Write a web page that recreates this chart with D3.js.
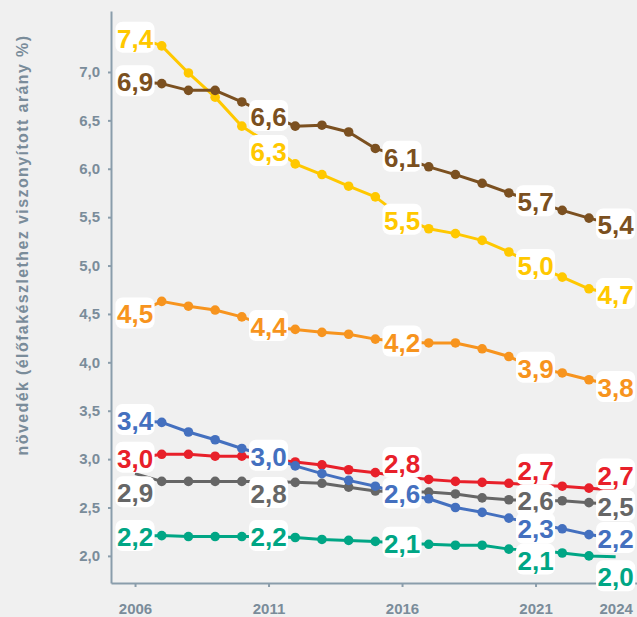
<!DOCTYPE html>
<meta charset="utf-8">
<style>

body {
  margin: 0;
  background: #f0f0f0;
}

svg {
  display: block;
  font-family: "Liberation Sans", Arial, sans-serif;
}

.axis path,
.axis line {
  stroke: #8a9dab;
  stroke-width: 2;
}

.axis text {
  font-size: 15px;
  font-weight: bold;
  fill: #7a8c9a;
}

.title {
  font-size: 16px;
  font-weight: bold;
  fill: #7a8c9a;
  letter-spacing: 1.4px;
}

.label text {
  font-size: 26px;
  font-weight: bold;
}

</style>
<svg width="637" height="617"></svg>
<script src="https://d3js.org/d3.v7.min.js"></script>
<script>

////////// Data //////////////

var years = [2006, 2007, 2008, 2009, 2010, 2011, 2012, 2013, 2014, 2015,
             2016, 2017, 2018, 2019, 2020, 2021, 2022, 2023, 2024];

var yellow = [7.37, 7.27, 6.99, 6.74, 6.44, 6.26, 6.05, 5.94, 5.82, 5.71,
              5.50, 5.38, 5.33, 5.26, 5.14, 5.00, 4.88, 4.76, 4.70];
var brown  = [6.90, 6.88, 6.81, 6.81, 6.69, 6.56, 6.44, 6.45, 6.38, 6.21,
              6.12, 6.02, 5.94, 5.85, 5.75, 5.66, 5.57, 5.49, 5.42];
var orange = [4.50, 4.63, 4.58, 4.54, 4.47, 4.37, 4.34, 4.31, 4.29, 4.24,
              4.21, 4.20, 4.20, 4.14, 4.06, 3.94, 3.89, 3.82, 3.76];
var grey   = [2.85, 2.77, 2.77, 2.77, 2.77, 2.77, 2.76, 2.75, 2.71, 2.67,
              2.66, 2.66, 2.64, 2.60, 2.58, 2.57, 2.57, 2.55, 2.53];
var red    = [3.01, 3.05, 3.05, 3.03, 3.03, 3.00, 2.97, 2.94, 2.89, 2.86,
              2.82, 2.79, 2.77, 2.76, 2.75, 2.73, 2.72, 2.70, 2.68];
var blue   = [3.40, 3.38, 3.28, 3.20, 3.11, 3.03, 2.93, 2.85, 2.78, 2.72,
              2.64, 2.59, 2.50, 2.45, 2.39, 2.33, 2.28, 2.22, 2.18];
var green  = [2.20, 2.21, 2.20, 2.20, 2.20, 2.20, 2.19, 2.17, 2.16, 2.15,
              2.13, 2.12, 2.11, 2.11, 2.07, 2.06, 2.03, 2.00, 1.99];

var labelYears = [2006, 2011, 2016, 2021, 2024];
var xTicks = [2006, 2011, 2016, 2021, 2024];
var yTicks = [2.0, 2.5, 3.0, 3.5, 4.0, 4.5, 5.0, 5.5, 6.0, 6.5, 7.0];
var yTitle = "növedék (élőfakészlethez viszonyított arány %)";

// drawing order, colours, label nudges (px); null = label covered, not drawn //
var series = [
  { values: yellow, color: "#ffc800", nudge: [2, 8, 3, 0, 0] },
  { values: brown,  color: "#7b5020", nudge: [0, 2, 0, 0, 0] },
  { values: orange, color: "#f7941e", nudge: [0, 0, 0, 0, 2] },
  { values: grey,   color: "#666666", nudge: [19, 12, null, 0, 2] },
  { values: red,    color: "#e8202a", nudge: [0, null, -13, -15, -15] },
  { values: blue,   color: "#4470bf", nudge: [0, 0, 0, 5, 0] },
  { values: green,  color: "#00a685", nudge: [0, 0, 0, 10, 20] }
];

////////// Scales + Axes //////////////

var svg = d3.select("svg");

var x = d3.scaleLinear().domain([2005.1, 2024.8]).range([111, 637]);
var y = d3.scaleLinear().domain([1.72, 7.63]).range([583, 11]);

var comma = function(v) { return d3.format(".1f")(v).replace(".", ","); };

svg.append("g")
    .attr("class", "axis")
    .attr("transform", "translate(111,0)")
    .call(d3.axisLeft(y).tickValues(yTicks).tickSize(3).tickSizeOuter(0)
      .tickPadding(8).tickFormat(comma));

svg.append("g")
    .attr("class", "axis")
    .attr("transform", "translate(0,583)")
    .call(d3.axisBottom(x).tickValues(xTicks).tickSize(4).tickSizeOuter(0)
      .tickPadding(16).tickFormat(d3.format("d")));

svg.selectAll(".axis").attr("font-family", null).attr("font-size", null);

svg.append("text")
    .attr("class", "title")
    .attr("transform", "translate(28,245) rotate(-90)")
    .attr("text-anchor", "middle")
    .text(yTitle);

/////////// Lines + Dots /////////////////////

var line = d3.line()
    .x(function(d) { return x(d.year); })
    .y(function(d) { return y(d.value); });

series.forEach(function(s) {
  s.points = years.map(function(yr, i) { return { year: yr, value: s.values[i] }; });
});

var lines = svg.append("g");

series.forEach(function(s) {
  lines.append("path")
      .datum(s.points)
      .attr("d", line)
      .attr("fill", "none")
      .attr("stroke", s.color)
      .attr("stroke-width", 3)
      .attr("stroke-linejoin", "round");

  lines.selectAll(null)
      .data(s.points.filter(function(d) { return labelYears.indexOf(d.year) < 0; }))
      .enter().append("circle")
      .attr("cx", function(d) { return x(d.year); })
      .attr("cy", function(d) { return y(d.value); })
      .attr("r", 4.8)
      .attr("fill", s.color);
});

/////////// Value labels /////////////////////

var labels = svg.append("g");

series.forEach(function(s) {
  var pts = s.points
      .filter(function(d) { return labelYears.indexOf(d.year) >= 0; })
      .map(function(d, i) { return { year: d.year, value: d.value, nudge: s.nudge[i] }; })
      .filter(function(d) { return d.nudge !== null; });

  var lab = labels.selectAll(null)
      .data(pts)
      .enter().append("g")
      .attr("class", "label")
      .attr("transform", function(d) {
        return "translate(" + x(d.year) + "," + (y(d.value) + d.nudge) + ")";
      });

  var rect = lab.append("rect")
      .attr("fill", "#fff")
      .attr("rx", 7);

  var txt = lab.append("text")
      .attr("text-anchor", "middle")
      .attr("y", 9.5)
      .attr("fill", s.color)
      .text(function(d) { return comma(d.value); });

  rect.each(function(d, i) {
    var w = txt.nodes()[i].getComputedTextLength() + 3;
    d3.select(this)
        .attr("x", -w / 2)
        .attr("y", -16.5)
        .attr("width", w)
        .attr("height", 31);
  });
});

</script>
